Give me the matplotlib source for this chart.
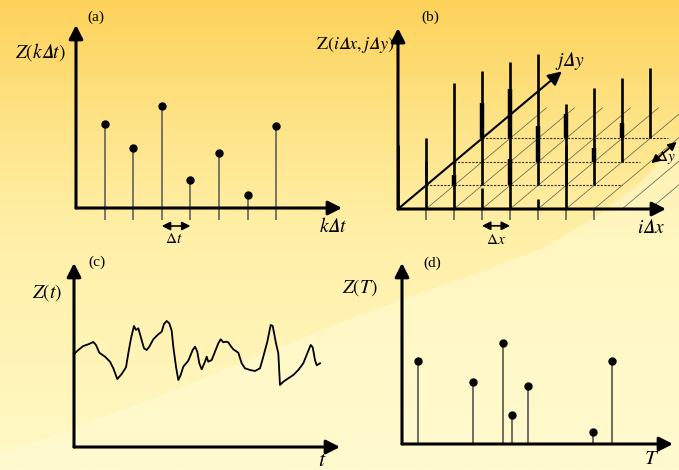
import numpy as np
import matplotlib
matplotlib.use("Agg")
import matplotlib.pyplot as plt
import matplotlib.colors as mcolors
from matplotlib.patches import Polygon

plt.rcParams['mathtext.fontset'] = 'stix'
plt.rcParams['font.family'] = ['Liberation Serif', 'DejaVu Serif']

# ---- data -------------------------------------------------------------
# (a) discrete time series Z(k dt)
a_k = [1, 2, 3, 4, 5, 6, 7]
a_z = [4.2, 3.0, 5.1, 1.4, 2.75, 0.65, 4.1]

# (b) 2D grid samples Z(i dx, j dy): grid index i, j and bar height
b_i = [0, 0, 1, 1, 2, 3, 2, 0, 4, 1, 3, 5, 4, 3, 3, 5, 6, 4, 6, 5, 5, 6, 6]
b_j = [0, 1, 0, 1, 0, 0, 1, 3, 0, 3, 1, 0, 1, 2, 3, 1, 0, 3, 1, 2, 3, 2, 3]
b_h = [2.3, 1.7, 1.7, 0.36, 4.5, 0.75, 4.1, 1.25, 5.25, 1.75, 0.93, 0.36,
       4.7, 1.3, 0.86, 2.9, 2.3, 1.8, 1.7, 0.5, 0.54, 3.0, 2.5]
b_rows = [1, 2, 3]
b_row_end = [7.0, 6.64, 6.64]
b_ticks = [1, 2, 3, 4, 5, 6, 7]
b_diag = [1, 2, 3, 4, 5, 6, 7, 8, 9]

# (c) continuous record Z(t)
c_t = [0.0, 0.43, 0.93, 1.43, 1.93, 2.2, 2.53, 3.1, 3.6, 3.93, 4.33, 4.77, 5.2,
       5.43, 5.7, 6.0, 6.2, 6.43, 6.67, 7.0, 7.27, 7.53, 7.93, 8.43, 8.77, 9.0,
       9.27, 9.53, 9.77, 9.93, 10.2, 10.43, 10.67, 10.93, 11.43, 11.87, 12.1,
       12.33, 12.53, 12.77, 13.1, 13.27, 13.43, 13.77, 14.1, 14.43, 14.67, 14.93,
       15.2, 15.43, 15.67, 15.93, 16.43, 16.77, 17.1, 17.6, 18.1, 18.6, 18.93,
       19.33, 19.67, 19.87, 20.2, 20.43, 20.6, 20.93, 21.43, 21.93, 22.43, 22.93,
       23.33, 23.67, 23.87, 24.1, 24.27, 24.6]
c_z = [9.3, 9.7, 10.1, 10.27, 10.5, 10.2, 9.43, 9.03, 8.53, 7.87, 6.8, 7.3, 7.97,
       9.37, 10.87, 12.1, 11.7, 11.87, 11.03, 9.87, 9.7, 10.03, 10.77, 11.27,
       11.53, 12.3, 12.6, 12.37, 11.63, 10.03, 8.03, 6.7, 7.2, 8.03, 8.63, 9.7,
       10.03, 9.53, 8.37, 7.77, 8.53, 9.03, 8.53, 8.7, 9.53, 10.37, 10.77, 10.47,
       10.53, 10.47, 10.1, 9.77, 9.43, 8.37, 7.87, 7.7, 7.6, 7.87, 9.03, 10.53,
       12.2, 12.1, 10.37, 9.37, 6.2, 6.53, 6.87, 7.2, 7.7, 8.37, 9.37, 10.2, 9.97,
       8.7, 8.17, 8.37]

# (d) irregular samples Z(T)
d_T = [1.6, 7.1, 10.1, 11.0, 12.6, 19.1, 21.0]
d_z = [8.3, 6.2, 10.1, 2.9, 5.8, 1.2, 8.3]

W, H = 679, 470
fig = plt.figure(figsize=(W / 100, H / 100), dpi=100)

# ---- background -------------------------------------------------------
bg = fig.add_axes([0, 0, 1, 1])
grad = mcolors.LinearSegmentedColormap.from_list(
    "", [(0, '#FDD25A'), (0.25, '#FEE386'), (0.5, '#FFF0A8'), (1, '#FFF9C6')])
bg.imshow(np.linspace(0, 1, 256)[:, None], cmap=grad, aspect='auto',
          extent=(0, W, H, 0))
swoosh = [(679, 140), (640, 183), (600, 214), (543, 248), (470, 276), (400, 300),
          (340, 323), (260, 355), (150, 400), (0, 455), (0, 470), (679, 470)]
bg.add_patch(Polygon(swoosh, closed=True, color='#FFFCD8', alpha=0.5, lw=0))
bg.set_xlim(0, W)
bg.set_ylim(H, 0)
bg.axis('off')

DI = '\U0001D6E5'  # mathematical italic capital delta


def panel(ox, oy, ux, uy):
    # full-figure transparent axes with data origin at pixel (ox, oy)
    ax = fig.add_axes([0, 0, 1, 1])
    ax.set_xlim(-ox / ux, (W - ox) / ux)
    ax.set_ylim(-(H - oy) / uy, oy / uy)
    ax.axis('off')
    return ax


def arrow(ax, p0, p1, lw=2.2, both=False, ms=15):
    style = '<|-|>' if both else '-|>'
    ax.annotate('', xy=p1, xytext=p0,
                arrowprops=dict(arrowstyle=style + ',head_length=0.55,head_width=0.28',
                                lw=lw, color='k', shrinkA=0, shrinkB=0,
                                mutation_scale=ms))


def label(px, py, s, size=14, ha='center'):
    fig.text(px / W, 1 - py / H, s, fontsize=size, ha=ha, va='center')


# ---- (a) --------------------------------------------------------------
ax = panel(76, 208, 28.6, 20)
ax.vlines(a_k, -0.6, a_z, color='#555555', lw=1.1)
ax.plot(a_k, a_z, 'o', color='k', ms=5)
arrow(ax, (0, 0), (9.3, 0))
arrow(ax, (0, 0), (0, 9.15))
arrow(ax, (a_k[2], -0.9), (a_k[3], -0.9), lw=1.2, both=True, ms=9)
label(96, 17, '(a)', 11)
label(40, 52, '$Z(k' + DI + 't)$', 14)
label(333, 227, '$k' + DI + 't$', 14)
label(174, 239, r'$\Delta t$', 11)

# ---- (b) --------------------------------------------------------------
ax = panel(398, 209, 28, 28)
sl = 0.84


def proj(i, j):
    return i + j, sl * j


for i in b_diag:
    x0, y0 = proj(i, 0)
    x1, y1 = proj(i, 4.3)
    ax.plot([x0, x1], [y0, y1], color='#5a5a48', lw=0.5)
for j, ie in zip(b_rows, b_row_end):
    x0, y = proj(0, j)
    x1, _ = proj(ie, j)
    ax.plot([x0, x1], [y, y], color='#333333', lw=0.8, ls=(0, (2, 1.2)))
ax.vlines(b_ticks, -0.4, 0, color='#555555', lw=1.1)

cols = [i + j for i, j in zip(b_i, b_j)]
bases = [sl * j for j in b_j]
tops = [b + h for b, h in zip(bases, b_h)]
for n in range(len(b_i)):
    x, y0 = proj(b_i[n], b_j[n])
    covered = any(cols[m] == cols[n] and m != n and bases[m] <= bases[n]
                  and tops[m] >= tops[n] for m in range(len(b_i)))
    ax.plot([x, x], [y0, tops[n]], color='k', lw=3.2 if covered else 1.9,
            solid_capstyle='butt')

arrow(ax, (0, 0), (9.57, 0))
arrow(ax, (0, 0), (0, 6.46))
arrow(ax, (0, 0), proj(0, 5.85), lw=1.5)
arrow(ax, (3, -0.6), (4, -0.6), lw=1.2, both=True, ms=9)
arrow(ax, proj(7.1, 1.95), proj(7.1, 2.85), lw=1.2, both=True, ms=9)
label(430, 17, '(b)', 11)
label(395, 45, r'$\mathrm{Z}(i' + DI + 'x,j' + DI + 'y)$', 13, ha='right')
label(570, 61, '$j' + DI + 'y$', 14)
label(651, 228, '$i' + DI + 'x$', 14)
label(496, 240, r'$\Delta x$', 11)
label(676, 158, r'$\Delta y$', 11, ha='right')

# ---- (c) --------------------------------------------------------------
ax = panel(74, 447, 10, 10)
ax.plot(c_t, c_z, color='k', lw=1.3)
arrow(ax, (0, 0), (26.6, 0))
arrow(ax, (0, 0), (0, 18.4))
label(97, 262, '(c)', 11)
label(47, 293, r'$Z(t)$', 14)
label(322, 462, r'$t$', 16)

# ---- (d) --------------------------------------------------------------
ax = panel(402, 444, 10, 10)
ax.vlines(d_T, 0, d_z, color='#555555', lw=1.2)
ax.plot(d_T, d_z, 'o', color='k', ms=5)
arrow(ax, (0, 0), (27.1, 0))
arrow(ax, (0, 0), (0, 18.1))
label(432, 263, '(d)', 11)
label(360, 288, r'$Z(T)$', 14)
label(652, 460, r'$T$', 15)

fig.savefig('out.png', dpi=100)
